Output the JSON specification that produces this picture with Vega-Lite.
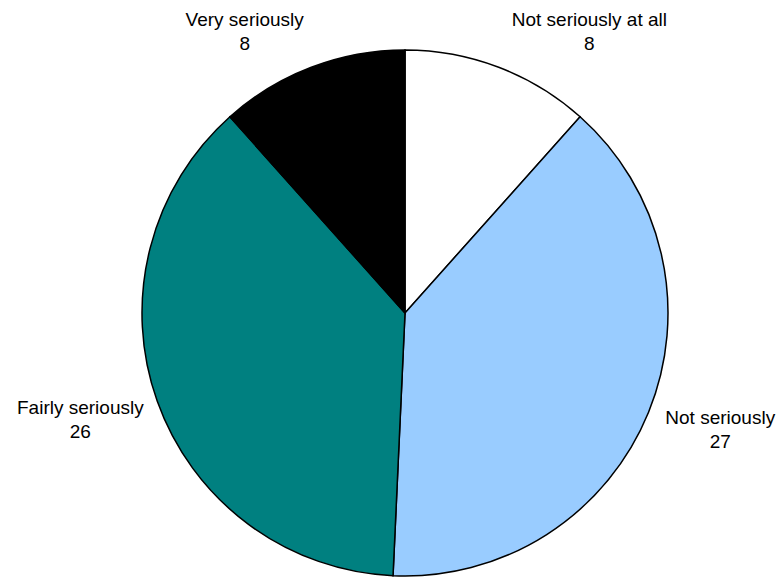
{
  "$schema": "https://vega.github.io/schema/vega-lite/v6.json",
  "width": 752,
  "height": 526,
  "padding": {"left": 29, "top": 50, "right": 1, "bottom": 2},
  "autosize": {"type": "none"},
  "background": "white",
  "config": {"view": {"stroke": null}, "text": {"font": "Liberation Sans", "fontSize": 19, "lineHeight": 24, "align": "center", "baseline": "middle", "color": "black", "lineBreak": "\n"}},
  "data": {"values": [
    {"category": "Not seriously at all", "value": 8, "rank": 1},
    {"category": "Not seriously", "value": 27, "rank": 2},
    {"category": "Fairly seriously", "value": 26, "rank": 3},
    {"category": "Very seriously", "value": 8, "rank": 4}
  ]},
  "transform": [
    {"calculate": "datum.category + '\\n' + datum.value", "as": "label"}
  ],
  "encoding": {
    "theta": {"field": "value", "type": "quantitative", "stack": true},
    "order": {"field": "rank", "type": "quantitative"}
  },
  "layer": [
    {
      "mark": {"type": "arc", "outerRadius": 263, "stroke": "black", "strokeWidth": 1.5},
      "encoding": {
        "color": {"field": "category", "type": "nominal", "legend": null,
          "scale": {"domain": ["Not seriously at all", "Not seriously", "Fairly seriously", "Very seriously"], "range": ["#FFFFFF", "#99CCFF", "#008080", "#000000"]}}
      }
    },
    {
      "mark": {"type": "text", "radius": 335, "dx": 65, "dy": 20},
      "encoding": {"text": {"condition": {"test": "datum.category == 'Not seriously at all'", "field": "label"}, "value": ""}}
    },
    {
      "mark": {"type": "text", "radius": 335, "dx": 5, "dy": -21},
      "encoding": {"text": {"condition": {"test": "datum.category == 'Not seriously'", "field": "label"}, "value": ""}}
    },
    {
      "mark": {"type": "text", "radius": 335, "dx": -9, "dy": -17},
      "encoding": {"text": {"condition": {"test": "datum.category == 'Fairly seriously'", "field": "label"}, "value": ""}}
    },
    {
      "mark": {"type": "text", "radius": 335, "dx": -41, "dy": 20},
      "encoding": {"text": {"condition": {"test": "datum.category == 'Very seriously'", "field": "label"}, "value": ""}}
    }
  ]
}
